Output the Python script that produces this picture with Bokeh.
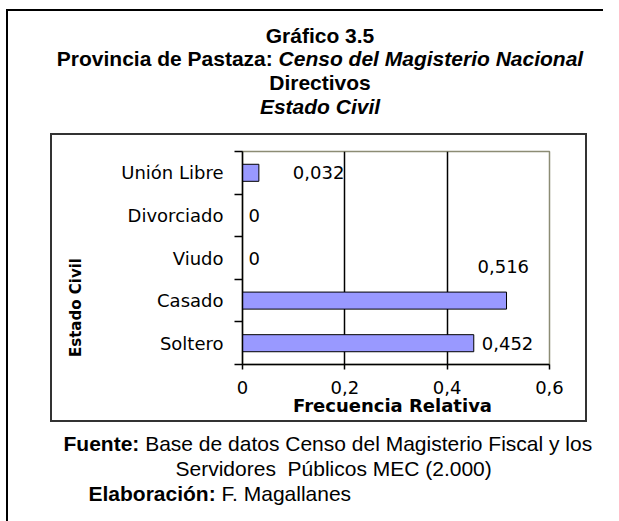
import math
from bokeh.plotting import figure
from bokeh.models import ColumnDataSource, Range1d, FixedTicker, Label
from bokeh.embed import file_html
from bokeh.resources import INLINE
from bokeh.core.properties import value

# ---------------- data ----------------
categories = ["Soltero", "Casado", "Viudo", "Divorciado", "Unión Libre"]
frecuencia = [0.452, 0.516, 0.0, 0.0, 0.032]
x_ticks = [0, 0.2, 0.4, 0.6]
x_tick_labels = ["0", "0,2", "0,4", "0,6"]

title_1 = "Gráfico 3.5"
title_2a = "Provincia de Pastaza:"
title_2b = "Censo del Magisterio Nacional"
title_3 = "Directivos"
title_4 = "Estado Civil"
x_title = "Frecuencia Relativa"
y_title = "Estado Civil"
fuente_a = "Fuente:"
fuente_b = "Base de datos Censo del Magisterio Fiscal y los"
fuente_c = "Servidores \u00a0Públicos MEC (2.000)"
elab_a = "Elaboración:"
elab_b = "F. Magallanes"

# ---------------- layout / style ----------------
W, H = 603, 521
label_dx = [8, -29, 6, 6, 34]     # pixel offsets of value labels
label_dy = [0, -34, 0, 0, 0]

def fmt(v):
    return "0" if v == 0 else ("%.3f" % v).replace(".", ",")

ypos = [i + 0.5 for i in range(len(categories))]
src = ColumnDataSource(dict(
    y=ypos, v=frecuencia, txt=[fmt(v) for v in frecuencia],
    dx=label_dx, dy=label_dy,
))

p = figure(width=W, height=H, x_range=Range1d(0, 0.6), y_range=Range1d(0, len(categories)),
           output_backend="svg", toolbar_location=None,
           min_border_left=242, min_border_right=W - 549, min_border_top=151, min_border_bottom=H - 364)
p.background_fill_color = None
p.border_fill_color = None
p.outline_line_color = "#8c8c74"
p.outline_line_width = 1.5

# decorative page boxes as CSS background layers of the figure element
def css_rect(x, y, w, h, c):
    return "linear-gradient(%s,%s) %dpx %dpx / %dpx %dpx no-repeat" % (c, c, x, y, w, h)

box_c = "#333333"
layers = [
    css_rect(6, 9, 2, H, "#000000"),          # outer border, left
    css_rect(6, 9, W, 2, "#000000"),          # outer border, top
    css_rect(50, 133, 537, 2, box_c),         # chart box, top
    css_rect(50, 420, 537, 2, box_c),         # chart box, bottom
    css_rect(50, 133, 2, 289, box_c),         # chart box, left
    css_rect(585, 133, 2, 289, box_c),        # chart box, right
]
p.styles = {"background": ", ".join(layers) + ", #ffffff"}

p.hbar(y="y", left=0, right="v", height=0.4, source=src,
       fill_color="#9999ff", line_color="#000000", line_width=1)
p.text(x="v", y="y", text="txt", x_offset="dx", y_offset="dy", source=src,
       text_font=value("DejaVu Sans"), text_font_size=value("18px"),
       text_baseline="middle", text_align="left", text_color="#000000")

# x axis
p.xaxis.ticker = FixedTicker(ticks=x_ticks)
p.xaxis.major_label_overrides = {t: l for t, l in zip(x_ticks, x_tick_labels)}
p.xaxis.major_tick_out = 5
p.xaxis.major_tick_in = 0
p.xaxis.minor_tick_line_color = None
p.xaxis.major_label_standoff = 11
p.xaxis.major_label_text_font = "DejaVu Sans"
p.xaxis.major_label_text_font_size = "18px"
p.xaxis.major_label_text_color = "#000000"
p.xaxis.axis_line_width = 1.5
p.xaxis.major_tick_line_width = 1.5

# y axis
p.yaxis.ticker = FixedTicker(ticks=ypos, minor_ticks=list(range(len(categories) + 1)))
p.yaxis.major_label_overrides = {y: c for y, c in zip(ypos, categories)}
p.yaxis.major_tick_out = 0
p.yaxis.major_tick_in = 0
p.yaxis.minor_tick_out = 8
p.yaxis.minor_tick_in = 0
p.yaxis.minor_tick_line_color = "#000000"
p.yaxis.minor_tick_line_width = 1.5
p.yaxis.major_label_standoff = 11
p.yaxis.major_label_text_font = "DejaVu Sans"
p.yaxis.major_label_text_font_size = "18px"
p.yaxis.major_label_text_color = "#000000"
p.yaxis.axis_line_width = 1.5

p.xgrid.ticker = FixedTicker(ticks=[0.2, 0.4])
p.xgrid.grid_line_color = "#000000"
p.xgrid.grid_line_width = 1.5
p.ygrid.grid_line_color = None

# axis titles (placed in page coordinates)
p.add_layout(Label(x=392, y=405, x_units="canvas", y_units="canvas", text=x_title,
                   text_font="DejaVu Sans", text_font_size="18px", text_font_style="bold",
                   text_align="center", text_baseline="middle", text_color="#000000"), "above")
p.add_layout(Label(x=75, y=307, x_units="canvas", y_units="canvas", text=y_title, angle=math.pi / 2,
                   text_font="DejaVu Sans", text_font_size="15px", text_font_style="bold",
                   text_align="center", text_baseline="middle", text_color="#000000"), "left")

FS = 21
TF = "Liberation Sans"
def lab(txt, x, y, side, style="bold", align="left"):
    p.add_layout(Label(x=x, y=y, x_units="canvas", y_units="canvas", text=txt,
                       text_font=TF, text_font_size="%dpx" % FS, text_font_style=style,
                       text_align=align, text_baseline="middle", text_color="#000000"), side)

cxm = 319.5
lab(title_1, cxm, 35, "above", align="center")
w2a = 10.56 * FS
w2 = (10.56 + 14.504) * FS
x2 = cxm - w2 / 2
lab(title_2a, x2, 58, "above")
lab(title_2b, x2 + w2a, 58, "above", style="bold italic")
lab(title_3, cxm, 82, "above", align="center")
lab(title_4, cxm, 106, "above", style="bold italic", align="center")

lab(fuente_a, 63, 443, "below")
lab(fuente_b, 63 + (3.611 + 0.278) * FS, 443, "below", style="normal")
lab(fuente_c, 175, 468, "below", style="normal")
lab(elab_a, 88, 493, "below")
lab(elab_b, 88 + (6.057 + 0.278) * FS, 493, "below", style="normal")

open("out.html", "w").write(file_html(p, INLINE))
